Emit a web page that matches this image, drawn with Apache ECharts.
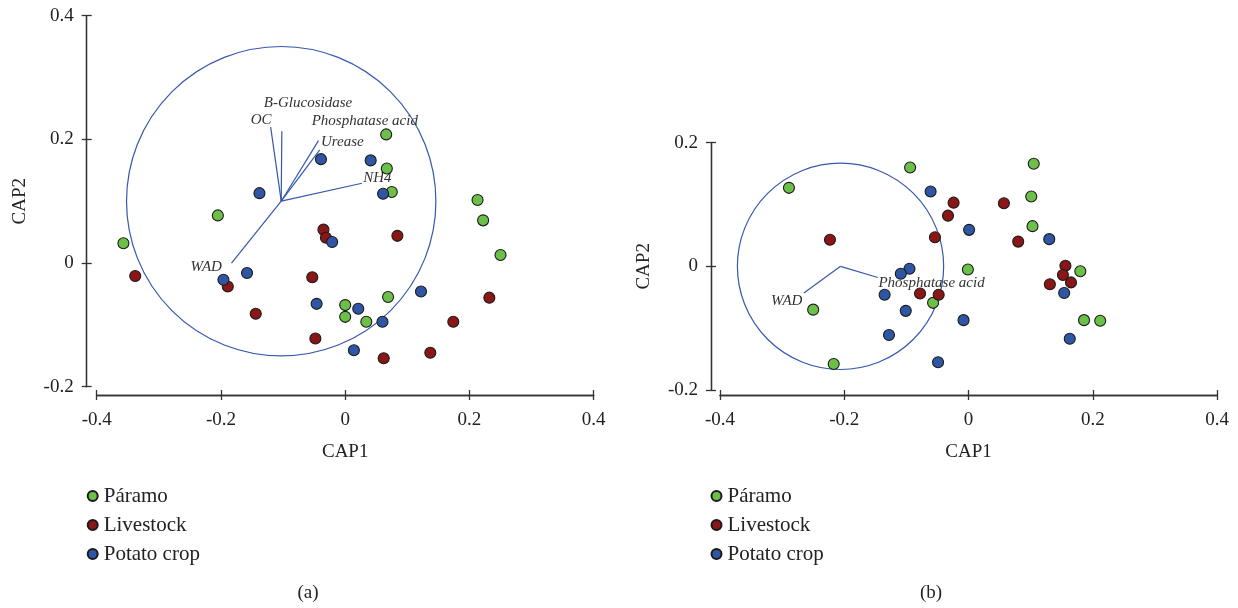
<!DOCTYPE html>
<html>
<head>
<meta charset="utf-8">
<script src="https://cdn.jsdelivr.net/npm/echarts@6/dist/echarts.min.js"></script>
<style>html,body{margin:0;padding:0;background:#fff;}#c{width:1238px;height:608px;}</style>
</head>
<body>
<div id="c"></div>
<script>
// ---------- DATA ----------
const groupNames = ['Páramo', 'Livestock', 'Potato crop'];
const xTicksRange = [-0.4, 0.4];
const yRangeA = [-0.2, 0.4];
const yRangeB = [-0.2, 0.2];

const paramoA = [[-0.357,0.032],[-0.205,0.077],[0.066,0.208],[0.067,0.153],[0.075,0.115],[0.213,0.102],[0.222,0.069],[0.250,0.013],[0.069,-0.055],[0.000,-0.068],[0.000,-0.087],[0.034,-0.095]];
const livestockA = [[-0.338,-0.021],[-0.189,-0.038],[-0.144,-0.082],[-0.053,-0.023],[-0.035,0.054],[-0.031,0.041],[-0.048,-0.122],[0.084,0.044],[0.232,-0.056],[0.174,-0.095],[0.137,-0.145],[0.062,-0.154]];
const potatoA = [[-0.039,0.168],[-0.138,0.113],[-0.021,0.034],[-0.158,-0.016],[-0.196,-0.027],[-0.046,-0.066],[0.041,0.166],[0.061,0.112],[0.122,-0.046],[0.021,-0.074],[0.060,-0.095],[0.014,-0.141]];

const paramoB = [[-0.289,0.127],[-0.094,0.160],[-0.057,-0.059],[-0.250,-0.070],[-0.217,-0.158],[0.105,0.166],[0.101,0.113],[0.103,0.065],[-0.001,-0.005],[0.180,-0.008],[0.186,-0.087],[0.212,-0.088]];
const livestockB = [[-0.024,0.103],[-0.033,0.082],[-0.223,0.043],[-0.054,0.047],[-0.078,-0.044],[-0.048,-0.046],[0.057,0.102],[0.080,0.040],[0.156,0.001],[0.152,-0.014],[0.165,-0.026],[0.131,-0.029]];
const potatoB = [[-0.061,0.121],[-0.095,-0.004],[-0.109,-0.012],[-0.135,-0.046],[-0.101,-0.072],[-0.128,-0.111],[-0.049,-0.155],[0.001,0.059],[0.130,0.044],[0.154,-0.043],[-0.008,-0.087],[0.163,-0.117]];

// correlation circles: [centerX, centerY, radius]
const circleA = [-0.103, 0.100, 0.249];
const circleB = [-0.206, 0.000, 0.166];

// environmental vectors (origin at circle centre)
const vecNamesA = ['OC', 'B-Glucosidase', 'Phosphatase acid', 'Urease', 'NH4', 'WAD'];
const vecEndsA = [[-0.120,0.220],[-0.102,0.213],[-0.043,0.198],[-0.041,0.183],[0.027,0.129],[-0.183,0.000]];
const vecLabelAtA = [[-0.152,0.232],[-0.131,0.259],[-0.054,0.229],[-0.039,0.195],[0.029,0.137],[-0.249,-0.007]];

const vecNamesB = ['WAD', 'Phosphatase acid'];
const vecEndsB = [[-0.265,-0.043],[-0.146,-0.018]];
const vecLabelAtB = [[-0.318,-0.056],[-0.145,-0.027]];

const panelLabels = ['(a)', '(b)'];

// ---------- STYLE ----------
const FONT = "'Liberation Serif', 'DejaVu Serif', serif";
const COLORS = ['#6cc04a', '#8a1616', '#2f55a5'];
const LINE = '#3657ad';
const AXC = '#333333';

function axisLineStyle() { return {show: true, onZero: false, lineStyle: {color: AXC, width: 1.3}}; }

function mainX(grid, offset) {
  return {
    type: 'value', gridIndex: grid, min: xTicksRange[0], max: xTicksRange[1], interval: 0.2,
    offset: offset, position: 'bottom', name: 'CAP1', nameLocation: 'middle', nameGap: 48,
    nameTextStyle: {fontFamily: FONT, fontSize: 19, color: '#222'},
    axisLine: axisLineStyle(),
    axisTick: {show: true, inside: false, length: 5, lineStyle: {color: AXC, width: 1.3}},
    axisLabel: {margin: 16, fontFamily: FONT, fontSize: 19, color: '#222'},
    splitLine: {show: false}
  };
}
function innerX(grid, offset) {
  return {
    type: 'value', gridIndex: grid, min: xTicksRange[0], max: xTicksRange[1], interval: 0.2,
    offset: offset, position: 'bottom',
    axisLine: axisLineStyle(),
    axisTick: {show: true, inside: true, length: 5, lineStyle: {color: AXC, width: 1.3}},
    axisLabel: {show: false}, splitLine: {show: false}
  };
}
function mainY(grid, range, offset) {
  return {
    type: 'value', gridIndex: grid, min: range[0], max: range[1], interval: 0.2,
    offset: offset, position: 'left', name: 'CAP2', nameLocation: 'middle', nameGap: 57,
    nameTextStyle: {fontFamily: FONT, fontSize: 19, color: '#222'},
    axisLine: axisLineStyle(),
    axisTick: {show: true, inside: false, length: 5, lineStyle: {color: AXC, width: 1.3}},
    axisLabel: {margin: 13, fontFamily: FONT, fontSize: 19, color: '#222'},
    splitLine: {show: false}
  };
}
function innerY(grid, range, offset) {
  return {
    type: 'value', gridIndex: grid, min: range[0], max: range[1], interval: 0.2,
    offset: offset, position: 'left',
    axisLine: axisLineStyle(),
    axisTick: {show: true, inside: true, length: 5, lineStyle: {color: AXC, width: 1.3}},
    axisLabel: {show: false}, splitLine: {show: false}
  };
}

function scatter(name, data, ci, axisIdx) {
  return {
    type: 'scatter', name: name, data: data, xAxisIndex: axisIdx, yAxisIndex: axisIdx,
    symbol: 'circle', symbolSize: 11, z: 5,
    itemStyle: {color: COLORS[ci], borderColor: '#1a1a1a', borderWidth: 1.1, opacity: 1}
  };
}
function circleSeries(c, axisIdx) {
  return {
    type: 'custom', xAxisIndex: axisIdx, yAxisIndex: axisIdx, data: [c], z: 3, silent: true,
    renderItem: function (params, api) {
      const p = api.coord([api.value(0), api.value(1)]);
      const r = api.size([api.value(2), 0])[0];
      return {type: 'circle', shape: {cx: p[0], cy: p[1], r: r}, style: {fill: 'none', stroke: LINE, lineWidth: 1.2}};
    }
  };
}
function vectorSeries(origin, ends, axisIdx) {
  return {
    type: 'custom', xAxisIndex: axisIdx, yAxisIndex: axisIdx, z: 3, silent: true,
    data: ends.map(e => [origin[0], origin[1], e[0], e[1]]),
    encode: {x: [0, 2], y: [1, 3]},
    renderItem: function (params, api) {
      const a = api.coord([api.value(0), api.value(1)]);
      const b = api.coord([api.value(2), api.value(3)]);
      return {type: 'line', shape: {x1: a[0], y1: a[1], x2: b[0], y2: b[1]}, style: {stroke: LINE, lineWidth: 1.2}};
    }
  };
}
function labelSeries(names, pos, axisIdx) {
  return {
    type: 'custom', xAxisIndex: axisIdx, yAxisIndex: axisIdx, z: 4, silent: true,
    data: pos,
    renderItem: function (params, api) {
      const p = api.coord([api.value(0), api.value(1)]);
      return {type: 'text', x: p[0], y: p[1], style: {text: names[params.dataIndex], fill: '#333', font: 'italic 15px ' + FONT, textAlign: 'left', textVerticalAlign: 'middle'}};
    }
  };
}
function legend(left) {
  return {
    data: groupNames, orient: 'vertical', left: left, top: 485.5, padding: 0,
    itemWidth: 10, itemHeight: 10, itemGap: 8,
    icon: 'circle', selectedMode: false,
    textStyle: {fontFamily: FONT, fontSize: 21, color: '#222', lineHeight: 21, padding: [0, 0, 0, 1]}
  };
}

const chart = echarts.init(document.getElementById('c'), null, {renderer: 'canvas'});
chart.setOption({
  animation: false,
  backgroundColor: '#ffffff',
  grid: [
    {left: 96.7, top: 15.7, width: 497, height: 371},
    {left: 720, top: 142.7, width: 497, height: 247.3}
  ],
  xAxis: [mainX(0, 8.3), innerX(0, 8.3), mainX(1, 5), innerX(1, 5)],
  yAxis: [mainY(0, yRangeA, 10), innerY(0, yRangeA, 10), mainY(1, yRangeB, 9), innerY(1, yRangeB, 9)],
  legend: [legend(86.7), legend(710.5)],
  graphic: [
    {type: 'text', x: 308, y: 593, style: {text: panelLabels[0], font: '19px ' + FONT, fill: '#222', textAlign: 'center', textVerticalAlign: 'middle'}},
    {type: 'text', x: 931, y: 593, style: {text: panelLabels[1], font: '19px ' + FONT, fill: '#222', textAlign: 'center', textVerticalAlign: 'middle'}}
  ],
  series: [
    circleSeries(circleA, 0),
    vectorSeries([circleA[0], circleA[1]], vecEndsA, 0),
    labelSeries(vecNamesA, vecLabelAtA, 0),
    scatter(groupNames[0], paramoA, 0, 0),
    scatter(groupNames[1], livestockA, 1, 0),
    scatter(groupNames[2], potatoA, 2, 0),
    circleSeries(circleB, 2),
    vectorSeries([circleB[0], circleB[1]], vecEndsB, 2),
    labelSeries(vecNamesB, vecLabelAtB, 2),
    scatter(groupNames[0], paramoB, 0, 2),
    scatter(groupNames[1], livestockB, 1, 2),
    scatter(groupNames[2], potatoB, 2, 2)
  ]
});
</script>
</body>
</html>
